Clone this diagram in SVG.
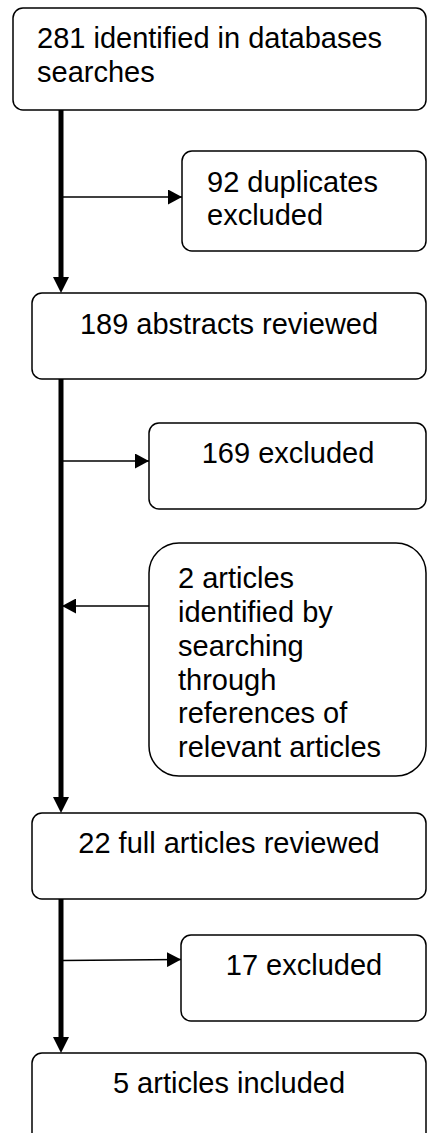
<svg xmlns="http://www.w3.org/2000/svg" width="427" height="1133" viewBox="0 0 427 1133">
<style>
.box{fill:#fff;stroke:#000;stroke-width:1.5}
.t{font-family:"Liberation Sans",Arial,sans-serif;font-size:29px;fill:#000}
.c{text-anchor:middle}
.thick{stroke:#000;stroke-width:5;fill:none}
.thin{stroke:#000;stroke-width:1.5;fill:none}
</style>
<defs>
<marker id="ah" markerWidth="14" markerHeight="15" refX="14" refY="7.5" orient="auto" markerUnits="userSpaceOnUse"><path d="M0,0 L14,7.5 L0,15 Z" fill="#000"/></marker>
<marker id="ahb" markerWidth="16" markerHeight="15" refX="16" refY="7.5" orient="auto" markerUnits="userSpaceOnUse"><path d="M0,0 L16,7.5 L0,15 Z" fill="#000"/></marker>
</defs>
<g id="connectors">
<line class="thick" x1="61" y1="110" x2="61" y2="279"/>
<path d="M53,277 L69,277 L61,293 Z" fill="#000"/>
<line class="thick" x1="61" y1="379" x2="61" y2="799"/>
<path d="M53,797 L69,797 L61,813 Z" fill="#000"/>
<line class="thick" x1="61" y1="899" x2="61" y2="1039"/>
<path d="M53,1037 L69,1037 L61,1053 Z" fill="#000"/>
<line class="thin" x1="62" y1="197" x2="182" y2="197" marker-end="url(#ah)"/>
<line class="thin" x1="62" y1="461" x2="149" y2="461" marker-end="url(#ah)"/>
<line class="thin" x1="149" y1="606" x2="62" y2="606" marker-end="url(#ah)"/>
<line class="thin" x1="62" y1="960.5" x2="181" y2="959.5" marker-end="url(#ah)"/>
</g>
<g id="n1"><rect class="box" x="13" y="8" width="413" height="102" rx="10"/>
<text class="t" x="37" y="48">281 identified in databases</text>
<text class="t" x="37" y="82">searches</text></g>
<g id="n2"><rect class="box" x="182" y="151" width="244" height="100" rx="10"/>
<text class="t" x="207" y="192">92 duplicates</text>
<text class="t" x="207" y="225">excluded</text></g>
<g id="n3"><rect class="box" x="32" y="293" width="394" height="86" rx="10"/>
<text class="t c" x="229" y="334">189 abstracts reviewed</text></g>
<g id="n4"><rect class="box" x="149" y="423" width="277" height="86" rx="10"/>
<text class="t c" x="288" y="463">169 excluded</text></g>
<g id="n5"><rect class="box" x="149" y="543" width="277" height="233" rx="30"/>
<text class="t" x="178" y="588">2 articles</text>
<text class="t" x="178" y="622">identified by</text>
<text class="t" x="178" y="656">searching</text>
<text class="t" x="178" y="690">through</text>
<text class="t" x="178" y="723">references of</text>
<text class="t" x="178" y="757">relevant articles</text></g>
<g id="n6"><rect class="box" x="32" y="813" width="394" height="86" rx="10"/>
<text class="t c" x="229" y="853">22 full articles reviewed</text></g>
<g id="n7"><rect class="box" x="181" y="935" width="245" height="86" rx="10"/>
<text class="t c" x="304" y="975">17 excluded</text></g>
<g id="n8"><rect class="box" x="32" y="1053" width="394" height="100" rx="10"/>
<text class="t c" x="229" y="1093">5 articles included</text></g>
</svg>
